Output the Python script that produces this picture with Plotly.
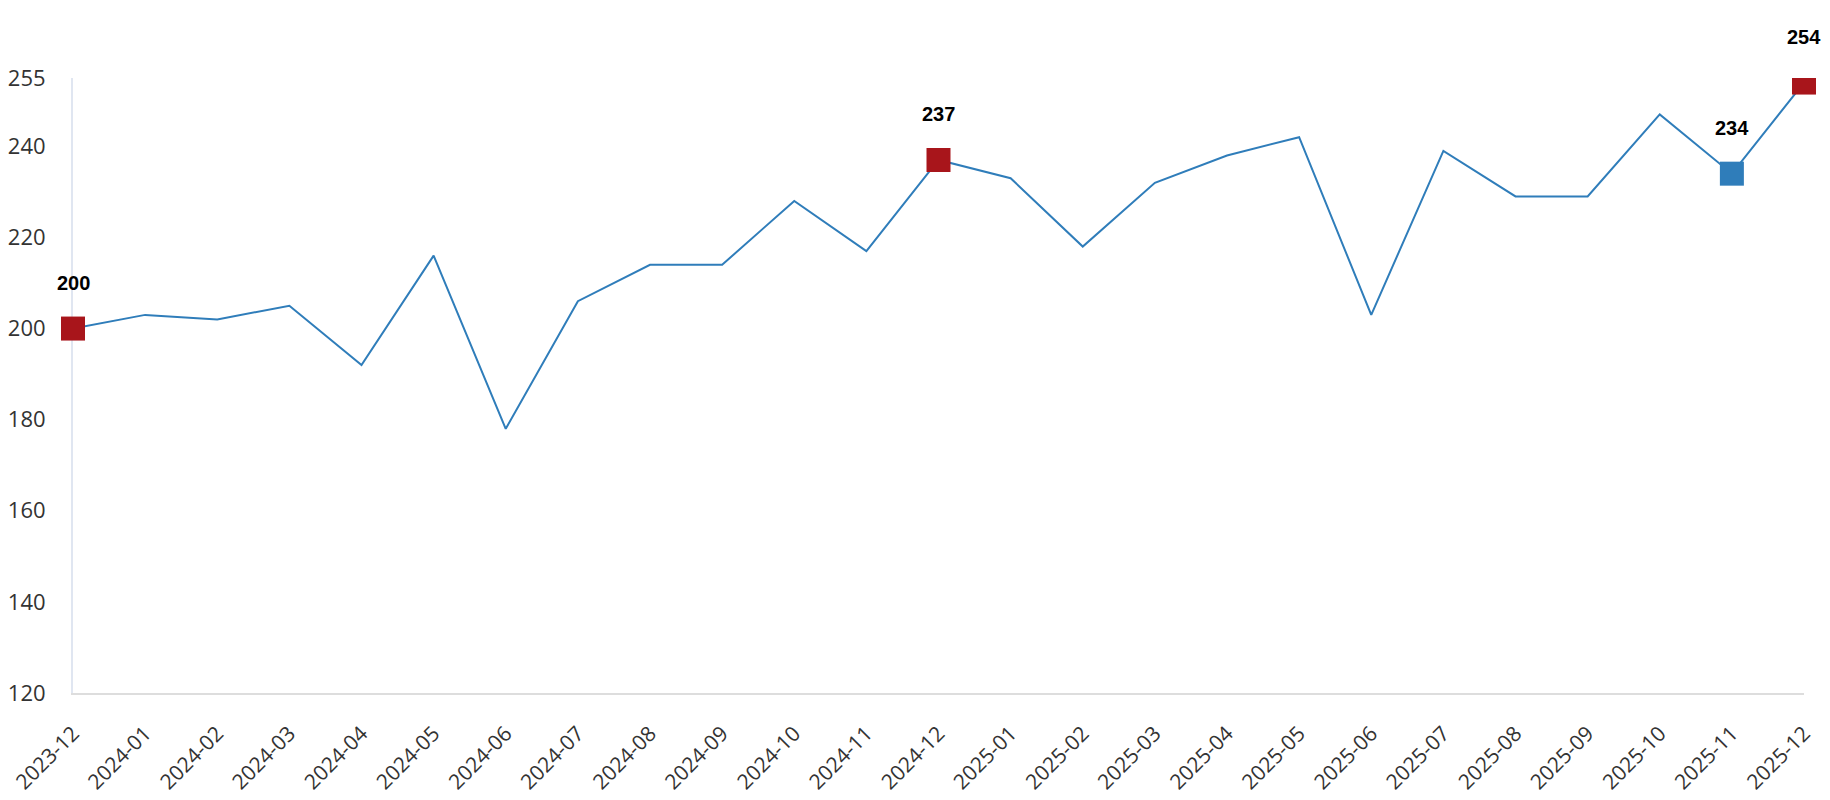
import plotly.graph_objects as go

months = ["2023-12", "2024-01", "2024-02", "2024-03", "2024-04", "2024-05", "2024-06",
          "2024-07", "2024-08", "2024-09", "2024-10", "2024-11", "2024-12", "2025-01",
          "2025-02", "2025-03", "2025-04", "2025-05", "2025-06", "2025-07", "2025-08",
          "2025-09", "2025-10", "2025-11", "2025-12"]
values = [200, 203, 202, 205, 192, 216, 178, 206, 214, 214, 228, 217, 237, 233,
          218, 232, 238, 242, 203, 239, 229, 229, 247, 234, 254]

highlight_months = ["2023-12", "2024-12", "2025-11", "2025-12"]
highlight_values = [200, 237, 234, 254]
highlight_colors = ["#a8151b", "#a8151b", "#2f7dba", "#a8151b"]

y_ticks = [120, 140, 160, 180, 200, 220, 240, 255]

fig = go.Figure()
fig.add_trace(go.Scatter(
    x=months, y=values, mode="lines",
    line=dict(color="#2f7dba", width=2),
    hoverinfo="x+y", showlegend=False,
))
fig.add_trace(go.Scatter(
    x=highlight_months, y=highlight_values, mode="markers",
    marker=dict(symbol="square", size=24, color=highlight_colors,
                line=dict(width=0)),
    cliponaxis=False,
    showlegend=False,
))
for m, v in zip(highlight_months, highlight_values):
    fig.add_annotation(
        x=m, y=v, text="<b>%d</b>" % v, showarrow=False, yshift=46,
        font=dict(family="Liberation Sans, Arial, sans-serif", size=20, color="#000000"),
    )

# white mask above the plot top so markers appear cut at the top edge
fig.add_shape(type="rect", xref="paper", yref="paper", x0=0.9, x1=1.05, y0=1.0, y1=1.12,
              fillcolor="#ffffff", line=dict(width=0), layer="above")

fig.update_layout(
    width=1830, height=800,
    margin=dict(l=65, r=34, t=70, b=115),
    plot_bgcolor="#ffffff", paper_bgcolor="#ffffff",
    font=dict(family="Open Sans, sans-serif", size=22, color="#333333"),
)
fig.update_xaxes(
    type="category", range=[0, len(months) - 1], automargin=False,
    showgrid=False, zeroline=False, layer="below traces",
    showline=True, linecolor="#dddddd", linewidth=2,
    tickangle=-45, tickfont=dict(size=21, color="#333333"),
    ticks="", ticklabelstandoff=18,
)
fig.update_yaxes(
    range=[120, 255], tickvals=y_ticks, ticktext=[str(t) for t in y_ticks],
    automargin=False, layer="below traces",
    showgrid=False, zeroline=False,
    showline=True, linecolor="#e0e6f1", linewidth=2,
    tickfont=dict(size=22, color="#333333"),
    ticks="", ticklabelstandoff=21,
)

fig.write_html("out.html")
